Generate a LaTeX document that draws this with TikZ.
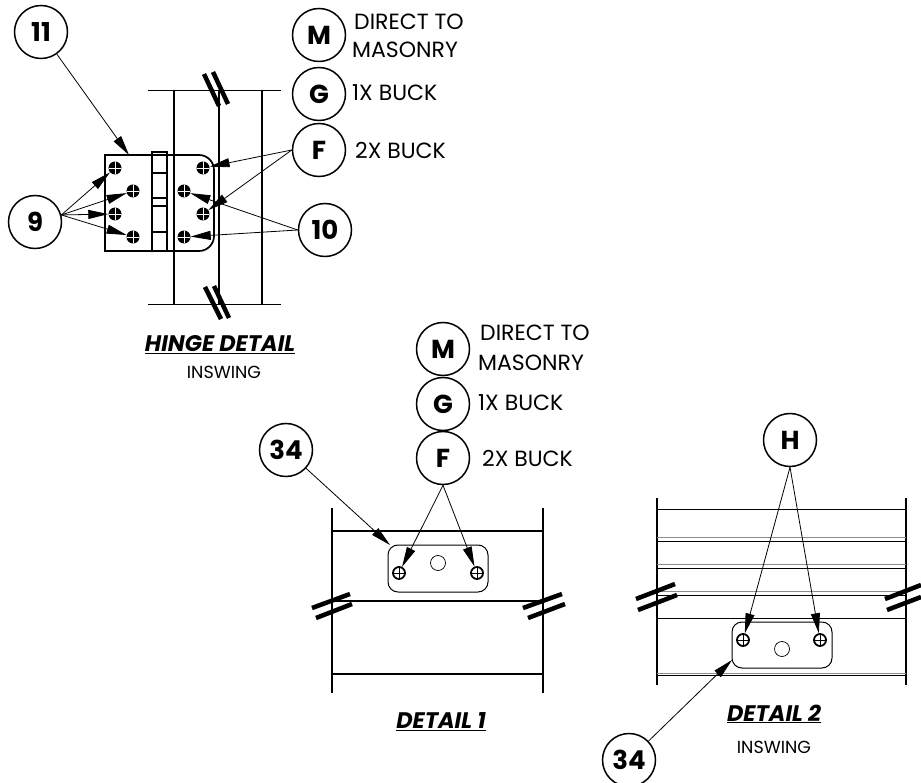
\documentclass[tikz,border=0pt]{standalone}
\usepackage{fontspec}
\setmainfont{Poppins}
\usetikzlibrary{arrows.meta}
\tikzset{
  callout/.style={circle,draw,line width=1.5pt,minimum size=53pt,inner sep=0pt,font=\fontsize{26}{26}\selectfont\bfseries},
  leader/.style={line width=0.8pt,-{Triangle[length=20pt,width=9pt]}},
  member/.style={line width=1.7pt},
  thinmember/.style={line width=1pt},
  paleline/.style={line width=1pt,black!45},
  breakmark/.style={line width=4.5pt},
  plate/.style={line width=1pt,rounded corners=10pt},
  hscrew/.style={circle,fill=black,minimum size=13pt,inner sep=0pt,path picture={
    \draw[white,line width=0.5pt] (path picture bounding box.north) -- (path picture bounding box.south);
    \draw[white,line width=0.5pt] (path picture bounding box.west) -- (path picture bounding box.east);}},
  dscrew/.style={circle,draw,line width=1.8pt,minimum size=12pt,inner sep=0pt,path picture={
    \draw[line width=1pt] (path picture bounding box.north) -- (path picture bounding box.south);
    \draw[line width=1pt] (path picture bounding box.west) -- (path picture bounding box.east);}},
  hole/.style={circle,draw,line width=0.7pt,minimum size=15pt,inner sep=0pt},
  note/.style={anchor=west,inner sep=0pt,font=\fontsize{22}{22}\selectfont},
  heading/.style={inner sep=0pt,font=\fontsize{22.5}{22.5}\selectfont\bfseries\itshape},
  subheading/.style={inner sep=0pt,font=\fontsize{17.5}{17.5}\selectfont}
}
\begin{document}
\begin{tikzpicture}[x=1pt,y=-1pt]
  \useasboundingbox (0,0) rectangle (921,783);

  \node[callout] (n11) at (41,32) {11};
  \node[callout] (n9) at (35,222) {9};
  \node[callout] (nMa) at (319,35) {M};
  \node[callout] (nGa) at (319,94) {G};
  \node[callout] (nFa) at (319,150) {F};
  \node[callout] (n10) at (325,230) {10};
  \node[note] (t1) at (354,22) {DIRECT TO};
  \node[note] (t2) at (352,50) {MASONRY};
  \node[note] (t3) at (352,93) {1X BUCK};
  \node[note] (t4) at (355,150) {2X BUCK};

  \draw[member] (174,91) -- (174,305);
  \draw[member] (219,91) -- (219,305);
  \draw[member] (262,91) -- (262,305);
  \draw[thinmember] (148,91) -- (281,91);
  \draw[thinmember] (148,305) -- (281,305);
  \draw[breakmark] (204,74) -- (219,106);
  \draw[breakmark] (213,72) -- (228,104);
  \draw[breakmark] (205,287) -- (221,319);
  \draw[breakmark] (214,286) -- (229,318);

  \draw[member,fill=white] (105,155) -- (199,155) arc[start angle=-90,end angle=0,radius=15] -- (214,236) arc[start angle=0,end angle=90,radius=15] -- (105,251) -- cycle;
  \draw[member] (174,155) -- (174,251);
  \draw[member] (152,152) rectangle (167,251);
  \draw[member] (152,173) -- (167,173);
  \draw[member] (152,198) -- (167,198);
  \draw[member] (152,206) -- (167,206);
  \draw[member] (152,232) -- (167,232);

  \node[hscrew] (a1) at (115,168) {};
  \node[hscrew] (a2) at (133,191) {};
  \node[hscrew] (a3) at (115,214) {};
  \node[hscrew] (a4) at (133,237) {};
  \node[hscrew] (b1) at (203,168) {};
  \node[hscrew] (b2) at (184,191) {};
  \node[hscrew] (b3) at (203,214) {};
  \node[hscrew] (b4) at (184,237) {};
  \coordinate (tip11) at (129,155);

  \draw[leader] (n11) -- (tip11);
  \draw[leader] (n9.15) -- (a1);
  \draw[leader] (n9.15) -- (a2);
  \draw[leader] (n9.15) -- (a3);
  \draw[leader] (n9.15) -- (a4);
  \draw[leader] (nFa.west) -- (b1);
  \draw[leader] (nFa.west) -- (b3);
  \draw[leader] (n10.west) -- (b2);
  \draw[leader] (n10.west) -- (b4);

  \node[heading] (h1) at (220,345) {\underline{HINGE DETAIL}};
  \node[subheading] (h2) at (224,372) {INSWING};

  \node[callout] (nMb) at (443,349) {M};
  \node[callout] (nGb) at (443,404) {G};
  \node[callout] (nFb) at (443,458) {F};
  \node[callout] (n34a) at (286,450) {34};
  \node[note] (t5) at (480,333) {DIRECT TO};
  \node[note] (t6) at (478,363) {MASONRY};
  \node[note] (t7) at (478,403) {1X BUCK};
  \node[note] (t8) at (482,458) {2X BUCK};

  \draw[member] (332,508) -- (332,693);
  \draw[member] (543,508) -- (543,693);
  \draw[member] (332,531) -- (543,531);
  \draw[member] (332,601) -- (543,601);
  \draw[member] (332,674) -- (543,674);
  \draw[breakmark] (312,608) -- (350,594);
  \draw[breakmark] (316,618) -- (352,604);
  \draw[breakmark] (523,608) -- (562,594);
  \draw[breakmark] (528,618) -- (565,604);

  \draw[plate] (388,545) rectangle (488,592);
  \node[dscrew] (c1) at (399,573) {};
  \node[dscrew] (c2) at (477,573) {};
  \node[hole] (c3) at (438,563) {};
  \coordinate (tip34a) at (390,545);
  \draw[leader] (n34a) -- (tip34a);
  \draw[leader] (nFb.south) -- (c1);
  \draw[leader] (nFb.south) -- (c2);

  \node[heading] (h3) at (441,722) {\underline{DETAIL 1}};

  \node[callout] (nH) at (790,440) {H};
  \node[callout] (n34b) at (629,760) {34};

  \draw[member] (657,498) -- (657,685);
  \draw[member] (906,498) -- (906,685);
  \draw[thinmember] (657,509) -- (906,509);
  \draw[paleline] (657,537) -- (906,537);
  \draw[thinmember] (657,541) -- (906,541);
  \draw[paleline] (657,564) -- (906,564);
  \draw[thinmember] (657,568) -- (906,568);
  \draw[paleline] (657,591) -- (906,591);
  \draw[thinmember] (657,595) -- (906,595);
  \draw[thinmember] (657,618) -- (906,618);
  \draw[paleline] (657,673) -- (906,673);
  \draw[thinmember] (657,675) -- (906,675);
  \draw[breakmark] (636,599) -- (675,584);
  \draw[breakmark] (638,610) -- (677,595);
  \draw[breakmark] (885,599) -- (921,585);
  \draw[breakmark] (887,610) -- (921,597);

  \draw[plate,fill=white] (732,622) rectangle (832,668);
  \node[dscrew] (d1) at (743,640) {};
  \node[dscrew] (d2) at (820,640) {};
  \node[hole] (d3) at (782,649) {};
  \coordinate (tip34b) at (732,660);
  \draw[leader] (n34b) -- (tip34b);
  \draw[leader] (nH.south) -- (d1);
  \draw[leader] (nH.south) -- (d2);

  \node[heading] (h4) at (774,714) {\underline{DETAIL 2}};
  \node[subheading] (h5) at (774,747) {INSWING};
\end{tikzpicture}
\end{document}
